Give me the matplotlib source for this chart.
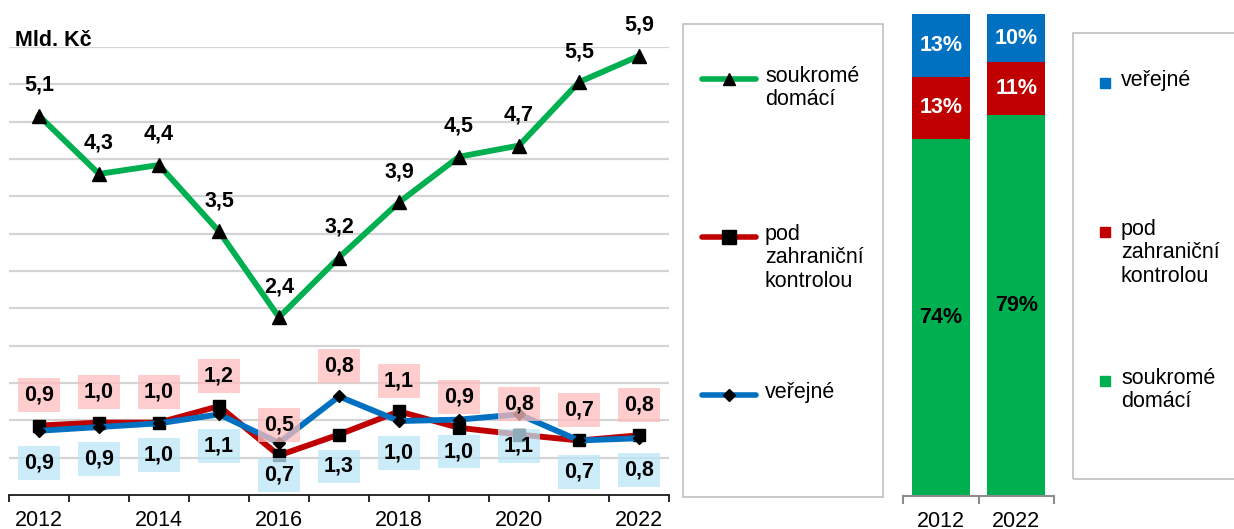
import matplotlib
matplotlib.use("Agg")
import matplotlib.pyplot as plt
from matplotlib.patches import Rectangle
from matplotlib.lines import Line2D
import numpy as np

plt.rcParams['font.family'] = ['Liberation Sans', 'DejaVu Sans']

# ---- data ----
years = [2012, 2013, 2014, 2015, 2016, 2017, 2018, 2019, 2020, 2021, 2022]
soukrome = [5.08, 4.30, 4.42, 3.53, 2.38, 3.18, 3.92, 4.53, 4.68, 5.53, 5.88]
zahranicni = [0.93, 0.97, 0.97, 1.19, 0.53, 0.81, 1.12, 0.90, 0.81, 0.73, 0.80]
verejne = [0.86, 0.91, 0.96, 1.08, 0.70, 1.32, 0.99, 1.01, 1.08, 0.73, 0.76]

share_years = ['2012', '2022']
share_soukrome = [74, 79]
share_zahranicni = [13, 11]
share_verejne = [13, 10]

names = ['soukromé\ndomácí', 'pod\nzahraniční\nkontrolou', 'veřejné']
GREEN, RED, BLUE = '#00b050', '#c00000', '#0070c0'

FS = 15.5
W, H = 1234, 529
fig = plt.figure(figsize=(W / 100, H / 100), dpi=100)


def fx(px):
    return px / W


def fy(py):
    return (H - py) / H


def fmt(v):
    return f"{v:.1f}".replace('.', ',')


# ---- left line chart ----
ax = fig.add_axes([fx(9), fy(495), fx(669) - fx(9), fy(47) - fy(495)])
x = np.arange(len(years))
ax.set_xlim(-0.5, len(years) - 0.5)
ax.set_ylim(0, 6)
ax.set_yticks(np.arange(0.5, 6.01, 0.5))
ax.yaxis.grid(True, color='#d4d4d4', lw=1.6)
ax.set_axisbelow(True)
ax.tick_params(axis='y', left=False, labelleft=False)
for s in ['top', 'right', 'left']:
    ax.spines[s].set_visible(False)
ax.spines['bottom'].set_color('#1a1a1a')
ax.spines['bottom'].set_linewidth(1.3)
ax.set_xticks(x[::2])
ax.set_xticklabels([str(y) for y in years[::2]], fontsize=FS)
ax.set_xticks(np.arange(-0.5, len(years), 1), minor=True)
ax.tick_params(axis='x', which='major', length=0, pad=11)
ax.tick_params(axis='x', which='minor', length=5, width=1.3, color='#1a1a1a', direction='out')

ax.plot(x, soukrome, color=GREEN, lw=4.2, marker='^', ms=9.5, mfc='black', mec='black', zorder=3)
ax.plot(x, zahranicni, color=RED, lw=4.2, marker='s', ms=9, mfc='black', mec='black', zorder=3)
ax.plot(x, verejne, color=BLUE, lw=4.2, marker='D', ms=6.5, mfc='black', mec='black', zorder=4)

for xi, v in zip(x, soukrome):
    ax.annotate(fmt(v), (xi, v), xytext=(0, 22), textcoords='offset points',
                ha='center', va='center', fontsize=FS, fontweight='bold', zorder=6,
                annotation_clip=False)

for xi, r, b in zip(x, zahranicni, verejne):
    # label sits at its own point unless the other series is far above / below it
    top = b if b - r > 0.3 else r
    bot = r if b - r > 0.3 else b
    ax.annotate(fmt(r), (xi, top), xytext=(0, 22), textcoords='offset points',
                ha='center', va='center', fontsize=FS, fontweight='bold', zorder=6,
                bbox=dict(boxstyle='square,pad=0.3', fc=(1.0, 0.74, 0.74, 0.75), ec='none'))
    ax.annotate(fmt(b), (xi, bot), xytext=(0, -23), textcoords='offset points',
                ha='center', va='center', fontsize=FS, fontweight='bold', zorder=6,
                bbox=dict(boxstyle='square,pad=0.3', fc=(0.74, 0.9, 0.97, 0.75), ec='none'))

fig.text(fx(15), fy(41), 'Mld. Kč', fontsize=FS, fontweight='bold', ha='left', va='center')

# ---- legend 1 (lines) ----
fig.patches.append(Rectangle((fx(683), fy(497)), fx(883) - fx(683), fy(24) - fy(497),
                             transform=fig.transFigure, fill=False, ec='#c0c0c0', lw=1.2))
leg_y = [79, 237, 395]
leg_colors = [GREEN, RED, BLUE]
leg_markers = [('^', 9), ('s', 9.5), ('D', 6.5)]
for ly, c, (m, ms), name in zip(leg_y, leg_colors, leg_markers, names):
    fig.add_artist(Line2D([fx(702), fx(756)], [fy(ly), fy(ly)], color=c, lw=4,
                          solid_capstyle='round', transform=fig.transFigure))
    fig.add_artist(Line2D([fx(729)], [fy(ly)], marker=m, ms=ms, mfc='black', mec='black',
                          lw=0, transform=fig.transFigure))
    fig.text(fx(765), fy(ly - 13), name, fontsize=FS, ha='left', va='top', linespacing=1.15)

# ---- right stacked bar chart ----
bx = fig.add_axes([fx(903), fy(496), fx(1054) - fx(903), fy(14) - fy(496)])
xb = np.arange(len(share_years))
bw = 0.77
bx.bar(xb, share_soukrome, bw, color=GREEN)
bx.bar(xb, share_zahranicni, bw, bottom=share_soukrome, color=RED)
bottom2 = [a + b for a, b in zip(share_soukrome, share_zahranicni)]
bx.bar(xb, share_verejne, bw, bottom=bottom2, color=BLUE)
bx.set_xlim(-0.5, 1.5)
bx.set_ylim(0, 100)
for s in ['top', 'right', 'left']:
    bx.spines[s].set_visible(False)
bx.spines['bottom'].set_color('#8c8c8c')
bx.spines['bottom'].set_linewidth(1.5)
bx.tick_params(axis='y', left=False, labelleft=False)
bx.set_xticks(xb)
bx.set_xticklabels(share_years, fontsize=FS)
bx.set_xticks([-0.5, 0.5, 1.5], minor=True)
bx.tick_params(axis='x', which='major', length=0, pad=11)
bx.tick_params(axis='x', which='minor', length=6, width=1.5, color='#8c8c8c', direction='out')
for i in range(len(share_years)):
    s, z, v = share_soukrome[i], share_zahranicni[i], share_verejne[i]
    bx.text(i, s / 2, f"{s}%", ha='center', va='center', fontsize=FS, fontweight='bold', color='black')
    bx.text(i, s + z / 2, f"{z}%", ha='center', va='center', fontsize=FS, fontweight='bold', color='white')
    bx.text(i, s + z + v / 2, f"{v}%", ha='center', va='center', fontsize=FS, fontweight='bold', color='white')

# ---- legend 2 (squares) ----
fig.patches.append(Rectangle((fx(1073), fy(479)), fx(1260) - fx(1073), fy(33) - fy(479),
                             transform=fig.transFigure, fill=False, ec='#c0c0c0', lw=1.2))
leg2_y = [83, 232, 381]
leg2_colors = [BLUE, RED, GREEN]
leg2_names = [names[2], names[1], names[0]]
for ly, c, name in zip(leg2_y, leg2_colors, leg2_names):
    fig.add_artist(Line2D([fx(1105)], [fy(ly)], marker='s', ms=7.5, mfc=c, mec=c, lw=0,
                          transform=fig.transFigure))
    fig.text(fx(1121), fy(ly - 13), name, fontsize=FS, ha='left', va='top', linespacing=1.15)

fig.savefig('out.png', dpi=100)
